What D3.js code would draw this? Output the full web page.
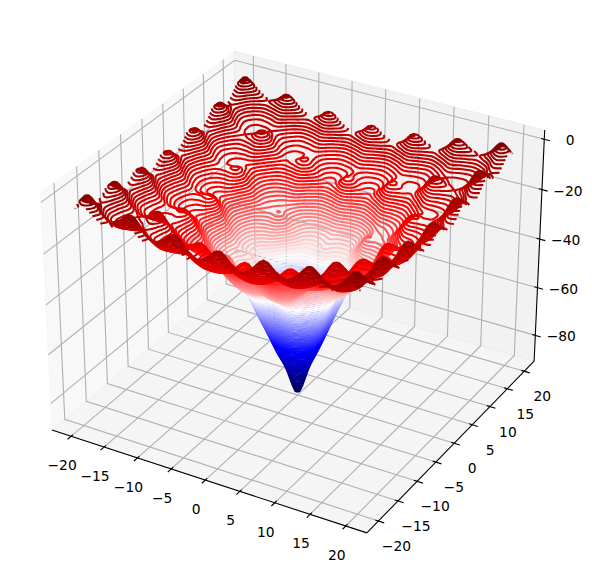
<!DOCTYPE html>
<html><head><meta charset="utf-8">
<script src="https://cdnjs.cloudflare.com/ajax/libs/d3/7.8.5/d3.min.js"></script>
<style>html,body{margin:0;padding:0;background:#fff}svg{display:block}text{font-family:"DejaVu Sans";font-size:13.89px;fill:#000}</style>
</head><body><svg id="c" width="592" height="579"></svg>
<script>
// Estimated surface heights, one quadrant (|x| and |y| in steps of tableStep); the surface is mirror-symmetric
const tableStep = Math.PI / 2;
const zQuadrant = [
[-90,-78.2,-67.5,-54.3,-41.5,-38.6,-35.6,-28,-19.4,-19.9,-19.2,-14.2,-6.4,-8.3],
[-78.2,-74.8,-66.1,-55,-44.2,-40.2,-36.5,-29.9,-23.4,-22,-20.4,-16.4,-10,-10.5],
[-67.5,-66.1,-60.5,-52.3,-43.8,-39.8,-36,-30.4,-24.9,-22.9,-20.7,-17.5,-12.1,-11.7],
[-54.3,-55,-52.3,-45.5,-37.6,-35.5,-33.2,-27.5,-21.5,-20.7,-19.3,-15.7,-9.4,-10.1],
[-41.5,-44.2,-43.8,-37.6,-30.6,-31.1,-29.3,-23.4,-17,-17.3,-17.1,-12.7,-5.1,-7.3],
[-38.6,-40.2,-39.8,-35.5,-31.1,-29.9,-28.1,-23.6,-18.5,-18.3,-17.5,-14.3,-8.3,-9.15],
[-35.6,-36.5,-36,-33.2,-29.3,-28.1,-26.2,-22.9,-19.2,-18.4,-17.3,-14.9,-9.9,-10.1],
[-28,-29.9,-30.4,-27.5,-23.4,-23.6,-22.9,-19.4,-15.1,-15.7,-15.5,-12.5,-6.9,-8.1],
[-19.4,-23.4,-24.9,-21.5,-17,-18.5,-19.2,-15.1,-9.3,-12,-13,-9.3,-2.5,-5.3],
[-19.9,-22,-22.9,-20.7,-17.3,-18.3,-18.4,-15.7,-12,-13.1,-13.3,-10.8,-5.5,-7],
[-19.2,-20.4,-20.7,-19.3,-17.1,-17.5,-17.3,-15.5,-13,-13.3,-13.1,-11.4,-7.2,-7.8],
[-14.2,-16.4,-17.5,-15.7,-12.7,-14.3,-14.9,-12.5,-9.3,-10.8,-11.4,-9.2,-4.3,-5.6],
[-6.4,-10,-12.1,-9.4,-5.1,-8.3,-9.9,-6.9,-2.5,-5.5,-7.2,-4.3,0.5,-3.1],
[-8.3,-10.5,-11.7,-10.1,-7.3,-9.15,-10.1,-8.1,-5.3,-7,-7.8,-5.6,-3.1,-4.95]
];
const xTicks = [-20,-15,-10,-5,0,5,10,15,20];
const yTicks = [-20,-15,-10,-5,0,5,10,15,20];
const zTicks = [-80,-60,-40,-20,0];
const levels = d3.range(-89, 0.5, 1);
const dataRange = [-20, 20];
const xLim = [-22.92, 22.92], yLim = [-22.92, 22.92], zLim = [-91, 3.66];

// Camera: elevation 30, azimuth -60, distance 10
const half = [0.595, 0.595, 0.446];
const sx = d3.scaleLinear().domain(xLim).range([-half[0], half[0]]);
const sy = d3.scaleLinear().domain(yLim).range([-half[1], half[1]]);
const sz = d3.scaleLinear().domain(zLim).range([-half[2], half[2]]);
const U = [0.866025, 0.5, 0], V = [-0.25, 0.433013, 0.866025], W = [0.433013, -0.75, 0.5];
const dot = (a, b) => a[0]*b[0] + a[1]*b[1] + a[2]*b[2];
const S = 3031, CX = 297.5, CY = 280.5;
function proj(x, y, z) {
  const d = [sx(x), sy(y), sz(z)], q = 10 - dot(W, d);
  return [CX + S * dot(U, d) / q, CY - S * dot(V, d) / q];
}

const svg = d3.select('#c');
const gPanes = svg.append('g'), gGrid = svg.append('g'), gAxes = svg.append('g'), gText = svg.append('g'), gLines = svg.append('g');
const [x0, x1] = xLim, [y0, y1] = yLim, [z0, z1] = zLim;
const poly = pts => 'M' + pts.map(p => proj(...p).map(v => v.toFixed(2)).join(',')).join('L');

[
  {c: 'rgba(242,242,242,0.5)', p: [[x0,y0,z0],[x0,y1,z0],[x0,y1,z1],[x0,y0,z1]]},
  {c: 'rgba(230,230,230,0.5)', p: [[x0,y1,z0],[x1,y1,z0],[x1,y1,z1],[x0,y1,z1]]},
  {c: 'rgba(236,236,236,0.5)', p: [[x0,y0,z0],[x1,y0,z0],[x1,y1,z0],[x0,y1,z0]]}
].forEach(d => gPanes.append('path').attr('d', poly(d.p) + 'Z').attr('fill', d.c).attr('stroke', d.c));

const grid = p => gGrid.append('path').attr('d', poly(p)).attr('fill', 'none').attr('stroke', '#b0b0b0').attr('stroke-width', 1.1);
xTicks.forEach(t => grid([[t,y0,z0],[t,y1,z0],[t,y1,z1]]));
yTicks.forEach(t => grid([[x1,t,z0],[x0,t,z0],[x0,t,z1]]));
zTicks.forEach(t => grid([[x0,y0,t],[x0,y1,t],[x1,y1,t]]));

const axis = (p, w) => gAxes.append('path').attr('d', poly(p)).attr('fill', 'none').attr('stroke', '#000').attr('stroke-width', w);
axis([[x0,y0,z0],[x1,y0,z0]], 1.1);
axis([[x1,y0,z0],[x1,y1,z0]], 1.1);
axis([[x1,y1,z0],[x1,y1,z1]], 1.1);
const tIn = 0.45, tOut = 0.8;
const label = (pos, dx, dy, s) => gText.append('text').attr('x', pos[0] + dx).attr('y', pos[1] + dy)
  .attr('text-anchor', 'middle').attr('dominant-baseline', 'central').text(s < 0 ? '\u2212' + Math.abs(s) : String(s));
xTicks.forEach(t => { axis([[t,y0+tIn,z0],[t,y0-tOut,z0]], 1.1); label(proj(t,y0,z0), -9, 29, t); });
yTicks.forEach(t => { axis([[x1-tIn,t,z0],[x1+tOut,t,z0]], 1.1); label(proj(x1,t,z0), 18, 25, t); });
zTicks.forEach(t => { axis([[x1-tIn,y1,t],[x1+tOut,y1,t]], 1.1); label(proj(x1,y1,t), 26, 1, t); });

// Contour tracer's sampling lattice: the table is resampled with a Catmull-Rom spline so traced lines are smooth
const q = zQuadrant.length, n = 161;
const lattice = d3.scaleLinear().domain([0, n-1]).range(dataRange);
const mirror = i => { const a = Math.abs(i); return a > q-1 ? 2*(q-1) - a : a; };
const tab = (r, c) => zQuadrant[mirror(r)][mirror(c)];
const cr = (a, b, c, d, t) => 0.5*(2*b + (c-a)*t + (2*a-5*b+4*c-d)*t*t + (3*b-a-3*c+d)*t*t*t);
const values = new Array(n*n);
for (let r = 0; r < n; r++) for (let c = 0; c < n; c++) {
  const ur = lattice(r)/tableStep, uc = lattice(c)/tableStep;
  const R = Math.floor(ur), C = Math.floor(uc), tr = ur - R, tc = uc - C, row = [];
  for (let k = -1; k <= 2; k++) row.push(cr(tab(R+k,C-1), tab(R+k,C), tab(R+k,C+1), tab(R+k,C+2), tc));
  values[r*n + c] = cr(row[0], row[1], row[2], row[3], tr);
}
const gx = d3.scaleLinear().domain([0.5, n-0.5]).range(dataRange);
const gy = d3.scaleLinear().domain([0.5, n-0.5]).range(dataRange);

const seismic = d3.scaleLinear().domain([0,0.25,0.5,0.75,1])
  .range(['rgb(0,0,76)','rgb(0,0,255)','rgb(255,255,255)','rgb(255,0,0)','rgb(128,0,0)']);
const tNorm = d3.scaleLinear().domain([d3.min(zQuadrant.flat()), d3.max(zQuadrant.flat())]).range([0,1]);

const line = d3.line();
const onBorder = p => p[0] <= 0 || p[0] >= n || p[1] <= 0 || p[1] >= n;
const contours = d3.contours().size([n, n]).smooth(true);
levels.forEach(lv => {
  const cont = contours.contour(values, lv);
  let d = '';
  const toXY = p => proj(gx(p[0]), gy(p[1]), lv);
  cont.coordinates.forEach(polygon => polygon.forEach(ring => {
    const pts = ring.slice(0, -1);
    const b = pts.findIndex(onBorder);
    if (b < 0) { d += line(pts.map(toXY)) + 'Z'; return; }
    let run = [];
    for (let i = 1; i <= pts.length; i++) {
      const p = pts[(b + i) % pts.length];
      if (onBorder(p)) { if (run.length > 1) d += line(run.map(toXY)); run = []; }
      else run.push(p);
    }
  }));
  gLines.append('path').attr('d', d).attr('fill', 'none').attr('stroke', seismic(tNorm(lv)))
    .attr('stroke-width', 2.08).attr('stroke-linejoin', 'round');
});
</script></body></html>
